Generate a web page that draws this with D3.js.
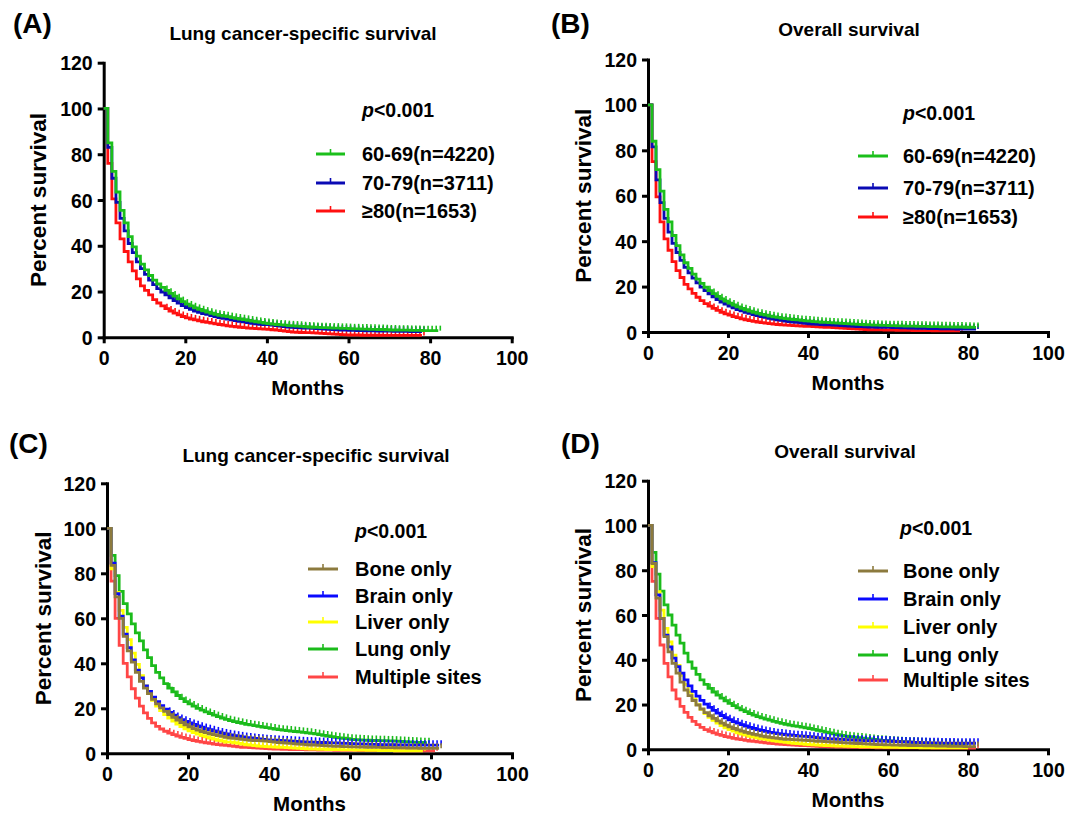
<!DOCTYPE html>
<html><head><meta charset="utf-8">
<script src="https://cdn.jsdelivr.net/npm/d3@7"></script>
<style>body{margin:0;background:#fff}svg{display:block}text{font-family:Arial,"Liberation Sans",sans-serif;font-weight:bold;fill:#000}</style>
</head><body><svg id="c" width="1072" height="815"></svg>
<script>
// ---------------- DATA ----------------
const xTicks = [0, 20, 40, 60, 80, 100];
const yTicks = [0, 20, 40, 60, 80, 100, 120];
const panelLabels = ["(A)", "(B)", "(C)", "(D)"];
const panelTitles = ["Lung cancer-specific survival", "Overall survival", "Lung cancer-specific survival", "Overall survival"];
const pText = "<0.001";
const ageGroups = ["60-69(n=4220)", "70-79(n=3711)", "≥80(n=1653)"];
const siteGroups = ["Bone only", "Brain only", "Liver only", "Lung only", "Multiple sites"];
const censorStart = 15; // first month with censor marks

// Panel A: lung cancer-specific survival by age (value per month, from month 0)
const a_60_69 = [100,85,72.5,63.5,55.5,50,44,39.5,35.5,32,29.5,27,25,23.3,21.8,20.5,19.2,18,16.8,15.6,14.5,13.7,12.9,12.2,11.6,11,10.5,10,9.6,9.3,9,8.6,8.3,8,7.7,7.4,7.1,6.8,6.5,6.2,6,5.8,5.6,5.4,5.3,5.1,5,4.9,4.8,4.6,4.5,4.4,4.3,4.2,4.2,4.1,4,4,3.9,3.9,3.8,3.7,3.7,3.6,3.6,3.5,3.5,3.4,3.4,3.3,3.2,3.2,3.1,3.1,3.1,3,3,3,2.9,2.9,2.9,2.9,2.9];
const a_70_79 = [100,83,69.5,59,52,46.5,41,37,33,30,27.5,25,23,21.3,19.8,18.5,17.2,16,14.9,13.9,13,12.2,11.5,10.9,10.4,10,9.5,9,8.6,8.3,8,7.6,7.3,7,6.7,6.4,6.1,5.9,5.7,5.6,5.5,5.3,5.1,4.9,4.7,4.5,4.3,4.2,4.1,4,4,3.9,3.8,3.7,3.6,3.5,3.4,3.3,3.2,3.1,3,3,2.9,2.9,2.8,2.8,2.8,2.7,2.7,2.7,2.7,2.6,2.6,2.6,2.6,2.5,2.5,2.5,2.5];
const a_80 = [100,76,60.5,50,43,37.5,33,29,25.5,22.5,20.5,18.5,16.5,15,13.7,12.5,11.5,10.6,9.8,9.1,8.5,8,7.6,7.2,6.8,6.5,6.2,5.9,5.6,5.3,5,4.8,4.6,4.4,4.2,4,3.9,3.8,3.7,3.6,3.5,3.3,3.1,2.9,2.7,2.5,2.3,2.2,2.1,2,2,1.9,1.8,1.7,1.6,1.5,1.4,1.3,1.2,1.1,1,1,1,0.9,0.9,0.9,0.9,0.9,0.8,0.8,0.8,0.8,0.8,0.8,0.8,0.8,0.8,0.8,0.8];

// Panel B: overall survival by age
const b_60_69 = [100,84,71.5,62,54,48.5,42.5,38,34,30.5,28,25.5,23.3,21.4,19.7,18.2,16.9,15.7,14.6,13.6,12.7,11.9,11.1,10.4,9.8,9.2,8.7,8.2,7.8,7.4,7,6.7,6.4,6.1,5.9,5.7,5.5,5.3,5.1,4.9,4.8,4.6,4.5,4.3,4.2,4.1,4,3.9,3.8,3.7,3.6,3.5,3.4,3.3,3.2,3.1,3,3,2.9,2.9,2.8,2.8,2.7,2.7,2.6,2.6,2.6,2.5,2.5,2.5,2.4,2.4,2.4,2.3,2.3,2.3,2.2,2.2,2.2,2.1,2.1,2,2];
const b_70_79 = [100,81.5,67,57,50,44,39,35,31.5,28.5,26,23.7,21.6,19.8,18.2,16.8,15.5,14.3,13.2,12.3,11.4,10.6,9.9,9.3,8.7,8.2,7.7,7.2,6.8,6.4,6,5.7,5.4,5.1,4.8,4.6,4.4,4.2,4,3.8,3.6,3.5,3.4,3.3,3.2,3.1,3,2.9,2.8,2.7,2.6,2.5,2.4,2.4,2.3,2.2,2.2,2.1,2.1,2,2,1.9,1.9,1.8,1.8,1.7,1.7,1.6,1.6,1.6,1.5,1.5,1.5,1.4,1.4,1.4,1.4,1.3,1.3,1.3,1.3,1.3,1.3];
const b_80 = [100,75,59.5,48.5,41,36,31,27,24,21,19,17,15.3,13.8,12.5,11.4,10.4,9.5,8.7,8,7.4,6.8,6.3,5.8,5.4,5,4.7,4.4,4.1,3.9,3.7,3.5,3.3,3.1,3,2.9,2.8,2.7,2.6,2.5,2.5,2.4,2.3,2.2,2.1,2,1.9,1.8,1.7,1.6,1.5,1.4,1.3,1.2,1.1,1,1,0.9,0.9,0.8,0.8,0.8,0.7,0.7,0.7,0.7,0.6,0.6,0.6,0.6,0.6,0.5,0.5,0.5,0.5,0.5,0.5,0.5,0.5];

// Panel C: lung cancer-specific survival by metastatic site
const c_bone = [100,83.5,69.5,60,52,45.5,40.5,36,32,29,26.5,24,22,20.2,18.6,17.2,16,14.8,13.7,12.7,11.8,11,10.3,9.7,9.2,8.7,8.3,7.9,7.5,7.1,6.8,6.6,6.4,6.2,6,5.8,5.7,5.6,5.5,5.4,5.2,5,4.8,4.7,4.5,4.4,4.2,4.1,4,3.8,3.7,3.6,3.5,3.4,3.3,3.2,3.1,3.1,3,3,2.9,2.9,2.8,2.8,2.7,2.7,2.6,2.6,2.5,2.5,2.5,2.4,2.4,2.4,2.3,2.3,2.3,2.2,2.2,2.2,2.2,2.2,2.2];
const c_brain = [100,84.5,71,61,53,47,41.5,37,33.5,30,27.5,25,23,21.2,19.6,18.2,17,15.9,15,14.2,13.5,12.8,12.2,11.6,11,10.5,10,9.5,9,8.6,8.2,7.9,7.6,7.3,7,6.8,6.6,6.4,6.2,6,5.9,5.8,5.7,5.6,5.5,5.4,5.3,5.2,5.1,5,5,4.9,4.8,4.8,4.7,4.6,4.6,4.5,4.4,4.4,4.3,4.2,4.2,4.1,4.1,4,4,3.9,3.9,3.8,3.8,3.7,3.7,3.7,3.6,3.6,3.6,3.6,3.6,3.6,3.6,3.6,3.6];
const c_liver = [100,82,71.5,63.5,56,50.5,44.5,39.5,34.5,30,26.5,23.5,21,19,17.2,15.7,14.3,13,11.9,10.9,10,9.2,8.5,7.9,7.3,6.8,6.3,5.8,5.4,5,5,4.7,4.4,4.1,3.8,3.6,3.4,3.2,3.1,3,2.9,2.8,2.7,2.6,2.5,2.4,2.3,2.2,2.1,2,1.9,1.9,1.8,1.8,1.7,1.7,1.6,1.6,1.5,1.5,1.5,1.4,1.4,1.4,1.3,1.3,1.3,1.2,1.2,1.2,1.2,1.1,1.1,1.1,1.1,1.1,1.1,1.1,1.1];
const c_lung = [100,88,79,72,66.5,62,57.5,53.5,50,46,42.5,39,36,33.5,31,29,27.3,25.7,24.3,23,22,21,20,19.2,18.4,17.7,17,16.3,15.7,15.1,14.5,14.1,13.7,13.3,12.9,12.6,12.3,12,11.7,11.4,11.1,10.8,10.5,10.3,10.1,9.9,9.7,9.5,9.3,9.1,8.9,8.6,8.3,8,7.7,7.4,7.1,6.9,6.7,6.5,6.2,6.1,6,5.9,5.8,5.7,5.7,5.6,5.6,5.5,5.5,5.4,5.3,5.2,5.1,5,4.9,4.8,4.7,4.7];
const c_multi = [100,76.5,60,48,40,34,28.7,24.5,21,18,15.5,13.5,12,10.8,9.8,9,8.3,7.7,7.1,6.6,6.1,5.7,5.3,5,4.7,4.4,4.1,3.9,3.7,3.5,3.3,3.1,2.9,2.7,2.6,2.5,2.4,2.3,2.2,2.1,2,1.9,1.9,1.8,1.8,1.7,1.7,1.6,1.6,1.5,1.5,1.5,1.4,1.4,1.4,1.4,1.3,1.3,1.3,1.3,1.3,1.3,1.2,1.2,1.2,1.2,1.2,1.2,1.2,1.2,1.2,1.1,1.1,1.1,1.1,1.1,1.1,1.1,1.1,1.1,1.1,1.1];

// Panel D: overall survival by metastatic site
const d_bone = [100,83,67.5,58.5,50.3,43.5,38.4,34,30,26.5,24,21.8,19.8,18,16.4,15,13.8,12.7,11.7,10.8,10,9.3,8.7,8.1,7.6,7.1,6.7,6.3,5.9,5.6,5.3,5.1,4.9,4.7,4.5,4.4,4.3,4.2,4.1,4,3.9,3.8,3.6,3.5,3.4,3.3,3.2,3.1,3,2.9,2.8,2.7,2.6,2.5,2.4,2.3,2.2,2.1,2.1,2,2,1.9,1.9,1.8,1.8,1.7,1.7,1.6,1.6,1.5,1.5,1.5,1.4,1.4,1.4,1.3,1.3,1.3,1.3,1.2,1.2,1.2,1.2];
const d_brain = [100,83.4,69,58.5,51,45.8,40.7,36.9,34,31,28.3,25.9,23.8,21.9,20.2,18.7,17.4,16.2,15.1,14.1,13.2,12.4,11.7,11,10.4,9.8,9.3,8.8,8.4,8,7.6,7.3,7,6.8,6.6,6.4,6.2,6,5.9,5.8,5.6,5.4,5.2,5,4.9,4.7,4.6,4.5,4.4,4.3,4.2,4.1,4,4,3.9,3.9,3.8,3.8,3.7,3.7,3.6,3.5,3.4,3.3,3.3,3.2,3.1,3.1,3,3,2.9,2.9,2.9,2.8,2.8,2.8,2.8,2.7,2.7,2.7,2.7,2.7,2.7];
const d_liver = [100,81.6,70.4,62.2,54,48,42.1,37.5,33,29,25.5,22.5,20,17.8,15.9,14.3,12.9,11.7,10.6,9.6,8.8,8.1,7.4,6.8,6.3,5.8,5.4,5,4.7,4.4,4.1,3.8,3.5,3.3,3.1,2.9,2.7,2.5,2.4,2.2,2.1,2,1.9,1.8,1.7,1.6,1.5,1.4,1.4,1.3,1.3,1.2,1.2,1.1,1.1,1.1,1,1,1,0.9,0.9,0.9,0.9,0.8,0.8,0.8,0.8,0.8,0.7,0.7,0.7,0.7,0.7,0.7,0.7,0.7,0.7,0.7,0.7,0.7,0.7];
const d_lung = [100,88,78.3,70.7,64.5,60,55.5,51,47.4,43,39.1,36.2,33.5,31,29,27.2,25.6,24.2,22.9,21.7,20.5,19.5,18.5,17.6,16.8,16,15.3,14.6,14,13.5,13,12.5,12,11.6,11.2,10.8,10.5,10.2,9.9,9.6,9.3,8.9,8.5,8.1,7.7,7.3,6.9,6.5,6.2,5.9,5.6,5.4,5.2,5,4.8,4.6,4.4,4.2,4,3.9,3.7,3.6,3.5,3.4,3.3,3.2,3.1,3,2.9,2.8,2.7,2.6,2.5,2.5,2.4,2.4,2.3,2.3,2.2,2.2,2.2];
const d_multi = [100,75,58.5,46.6,38.4,32.4,26.5,22.5,19.2,16.5,14.3,12.5,11,9.8,8.8,8,7.3,6.7,6.2,5.7,5.3,4.9,4.6,4.3,4,3.7,3.5,3.3,3.1,2.9,2.7,2.5,2.3,2.2,2.1,2,1.9,1.8,1.7,1.6,1.5,1.4,1.3,1.2,1.2,1.1,1.1,1,1,1,0.9,0.9,0.9,0.8,0.8,0.8,0.8,0.7,0.7,0.7,0.7,0.7,0.7,0.7,0.7,0.6,0.6,0.6,0.6,0.6,0.6,0.5,0.5,0.5,0.5,0.5,0.5,0.5,0.5,0.5,0.5,0.5,0.5];

// ---------------- STYLE / LAYOUT ----------------
const ageColors = ["#1bbf1b", "#0a0ab4", "#ff1010"];
const siteColors = ["#8c7a3e", "#0a0aff", "#ffff00", "#1bbb1b", "#ff4646"];

const panels = [
  {x:[103.7,511.7], y:[337.3,62.7], lab:[13,33], title:[303,40], ytx:46, p:[362,117], leg:[316,345,362], rows:[154,183,211],
   names:ageGroups, colors:ageColors, series:[a_60_69,a_70_79,a_80], order:[2,1,0]},
  {x:[648,1048], y:[332,59.5], lab:[551,33], title:[849,36], ytx:591, p:[903,120], leg:[858,888,903], rows:[156,188,217],
   names:ageGroups, colors:ageColors, series:[b_60_69,b_70_79,b_80], order:[2,1,0]},
  {x:[107,512], y:[753.3,483.3], lab:[9,453], title:[316,462], ytx:51, p:[355,538], leg:[308,338,355], rows:[569,596,622,649,677],
   names:siteGroups, colors:siteColors, series:[c_bone,c_brain,c_liver,c_lung,c_multi], order:[4,3,2,1,0]},
  {x:[648,1048], y:[749.3,480.7], lab:[561,453], title:[845,458], ytx:591, p:[900,535], leg:[858,888,903], rows:[571,599,627,655,680],
   names:siteGroups, colors:siteColors, series:[d_bone,d_brain,d_liver,d_lung,d_multi], order:[4,3,2,1,0]}
];

const svg = d3.select("#c");

panels.forEach((P, pi) => {
  const g = svg.append("g");
  const x = d3.scaleLinear().domain([0,100]).range(P.x);
  const y = d3.scaleLinear().domain([0,120]).range(P.y);

  // axes
  const xa = g.append("g").attr("transform", `translate(0,${P.y[0]})`)
    .call(d3.axisBottom(x).tickValues(xTicks).tickSize(6).tickSizeOuter(0).tickPadding(4));
  const ya = g.append("g").attr("transform", `translate(${P.x[0]},0)`)
    .call(d3.axisLeft(y).tickValues(yTicks).tickSize(6).tickSizeOuter(0).tickPadding(5));
  [xa, ya].forEach(a => {
    a.select(".domain").attr("stroke", "#000").attr("stroke-width", 3).attr("stroke-linecap", "square");
    a.selectAll(".tick line").attr("stroke", "#000").attr("stroke-width", 3);
    a.selectAll(".tick text").attr("font-size", 19.5).attr("font-weight", "bold")
      .attr("font-family", 'Arial,"Liberation Sans",sans-serif').attr("fill", "#000");
  });
  xa.selectAll(".tick text").attr("dy", "0.9em");
  ya.selectAll(".tick text").attr("dy", "0.36em");

  // curves
  const line = d3.line().x(d => x(d[0])).y(d => y(d[1])).curve(d3.curveStepAfter);
  P.order.forEach(si => {
    const vals = P.series[si];
    const pts = vals.map((v, i) => [i, v]);
    g.append("path").attr("d", line(pts)).attr("fill", "none")
      .attr("stroke", P.colors[si]).attr("stroke-width", 2.8).attr("stroke-linejoin", "miter");
    // censor marks
    g.append("g").selectAll("line").data(pts.filter(d => d[0] >= censorStart)).join("line")
      .attr("x1", d => x(d[0] + 0.5)).attr("x2", d => x(d[0] + 0.5))
      .attr("y1", d => y(d[1])).attr("y2", d => y(d[1]) - 5)
      .attr("stroke", P.colors[si]).attr("stroke-width", 1.6);
  });

  // texts
  g.append("text").attr("x", P.lab[0]).attr("y", P.lab[1]).attr("font-size", 28).text(panelLabels[pi]);
  g.append("text").attr("x", P.title[0]).attr("y", P.title[1]).attr("font-size", 19)
    .attr("text-anchor", "middle").text(panelTitles[pi]);
  const ymid = (P.y[0] + P.y[1]) / 2;
  g.append("text").attr("transform", `translate(${P.ytx},${ymid}) rotate(-90)`)
    .attr("text-anchor", "middle").attr("font-size", 22.5).text("Percent survival");
  g.append("text").attr("x", (P.x[0] + P.x[1]) / 2).attr("y", P.y[0] + 58)
    .attr("text-anchor", "middle").attr("font-size", 20.5).text("Months");
  const pt = g.append("text").attr("x", P.p[0]).attr("y", P.p[1]).attr("font-size", 19.5);
  pt.append("tspan").attr("font-style", "italic").text("p");
  pt.append("tspan").text(pText);

  // legend
  P.names.forEach((nm, i) => {
    const ry = P.rows[i];
    g.append("line").attr("x1", P.leg[0]).attr("x2", P.leg[1]).attr("y1", ry).attr("y2", ry)
      .attr("stroke", P.colors[i]).attr("stroke-width", 3);
    g.append("line").attr("x1", (P.leg[0] + P.leg[1]) / 2).attr("x2", (P.leg[0] + P.leg[1]) / 2)
      .attr("y1", ry).attr("y2", ry - 5).attr("stroke", P.colors[i]).attr("stroke-width", 1.6);
    g.append("text").attr("x", P.leg[2]).attr("y", ry).attr("dy", "0.36em").attr("font-size", 20).text(nm);
  });
});
</script></body></html>
